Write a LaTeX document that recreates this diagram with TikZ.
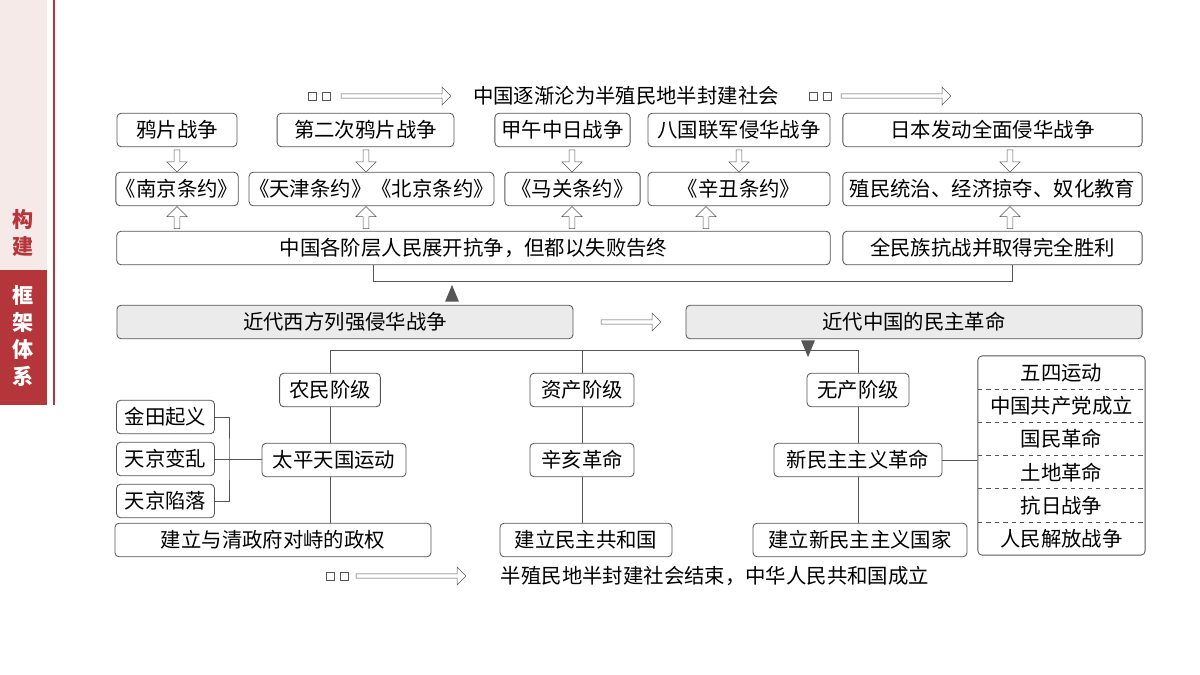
\documentclass[tikz,border=0pt]{standalone}
\usepackage{fontspec}
\setmainfont{Noto Sans CJK SC}
\usetikzlibrary{shapes.arrows,shapes.geometric}
\definecolor{sidered}{HTML}{B5363A}
\definecolor{sidepink}{HTML}{F5EAE8}
\definecolor{boxgray}{HTML}{EBEBEB}
\definecolor{linegray}{HTML}{555555}
\tikzset{
  txt/.style={font=\fontsize{14.5}{16}\selectfont},
  box/.style={draw=linegray,rounded corners=3pt,line width=0.6pt,minimum height=0.84cm,inner sep=0pt,txt},
  gbox/.style={box,fill=boxgray},
  down/.style={single arrow,draw=linegray,fill=white,shape border rotate=270,minimum width=0.5cm,minimum height=0.55cm,single arrow head extend=0.07cm,inner sep=0.6pt},
  up/.style={down,shape border rotate=90},
  right/.style={single arrow,draw=linegray,fill=white,minimum width=0.45cm,minimum height=#1,single arrow head extend=0.08cm,inner sep=0.5pt},
  sq/.style={draw=linegray,minimum size=0.2cm,inner sep=0pt},
  tri/.style={fill=linegray,isosceles triangle,isosceles triangle apex angle=45,inner sep=0pt,minimum height=0.42cm},
  lnk/.style={draw=linegray,line width=0.6pt},
}
\begin{document}
\begin{tikzpicture}[x=0.025cm,y=-0.025cm]
\useasboundingbox (0,0) rectangle (1200,675);
% sidebar
\fill[sidepink] (0,0) rectangle (47,270);
\fill[sidered] (0,270) rectangle (47,405);
\draw[sidered,line width=0.8pt] (54,0) -- (54,405);
\node[text=sidered,font=\fontsize{15}{19}\bfseries\selectfont,align=center] (goujian) at (23.5,233) {构\\建};
\node[text=white,font=\fontsize{15}{19}\bfseries\selectfont,align=center] (kuangjia) at (23.5,336) {框\\架\\体\\系};

% top line
\node[sq] (s1) at (312,96) {}; \node[sq] (s2) at (326,96) {};
\node[right=2.75cm] (ar1) at (395,96) {};
\node[txt] (top) at (626,96) {中国逐渐沦为半殖民地半封建社会};
\node[sq] (s3) at (813,96) {}; \node[sq] (s4) at (827,96) {};
\node[right=2.75cm] (ar2) at (895,96) {};

% row 1
\node[box,minimum width=3cm] (yp) at (177,130) {鸦片战争};
\node[box,minimum width=4.42cm] (dec) at (365.5,130) {第二次鸦片战争};
\node[box,minimum width=3.38cm] (jw) at (562.5,130) {甲午中日战争};
\node[box,minimum width=4.55cm] (bg) at (739,130) {八国联军侵华战争};
\node[box,minimum width=7.48cm] (rb) at (992.5,130) {日本发动全面侵华战争};
% row 2
\node[box,minimum width=3cm] (nj) at (177,189) {《南京条约》};
\node[box,minimum width=6.12cm] (tj) at (371.5,189) {《天津条约》《北京条约》};
\node[box,minimum width=3.38cm] (mg) at (572.5,189) {《马关条约》};
\node[box,minimum width=4.55cm] (xc) at (739,189) {《辛丑条约》};
\node[box,minimum width=7.48cm] (zm) at (992.5,189) {殖民统治、经济掠夺、奴化教育};
% row 3
\node[box,minimum width=17.83cm] (kz) at (473.5,248) {中国各阶层人民展开抗争，但都以失败告终};
\node[box,minimum width=7.48cm] (qm) at (992.5,248) {全民族抗战并取得完全胜利};

% hollow arrows
\foreach \x/\n in {177/a,366/b,572/c,739/d,1010/e}
  \node[down] (d\n) at (\x,159.5) {};
\foreach \x/\n in {177/a,366/b,572/c,706/d,1010/e}
  \node[up] (u\n) at (\x,219) {};

% row 4
\node[gbox,minimum width=11.4cm] (xf) at (345,322) {近代西方列强侵华战争};
\node[right=1.5cm] (ar3) at (630,322) {};
\node[gbox,minimum width=11.4cm] (mz) at (914,322) {近代中国的民主革命};
\coordinate (ka) at (373,281);
\coordinate (kb) at (1012,281);
\draw[lnk] (kz.south -| ka) -- (ka) -- (kb) -- (qm.south -| kb);
\node[tri,rotate=90,anchor=west] (t1) at (452,302) {};
\node[tri,rotate=-90,anchor=west] (t2) at (808,340) {};

% row 5-7
\node[box,minimum width=2.52cm] (nm) at (330,390) {农民阶级};
\node[box,minimum width=2.6cm] (zc) at (582,390) {资产阶级};
\node[box,minimum width=2.55cm] (wc) at (858,390) {无产阶级};
\node[box,minimum width=3.6cm] (tp) at (334,460) {太平天国运动};
\node[box,minimum width=2.6cm] (xh) at (582,460) {辛亥革命};
\node[box,minimum width=4.2cm] (xm) at (858,460) {新民主主义革命};
\node[box,minimum width=7.9cm] (jl1) at (273,540) {建立与清政府对峙的政权};
\node[box,minimum width=4.3cm] (jl2) at (586,540) {建立民主共和国};
\node[box,minimum width=5.35cm] (jl3) at (860,540) {建立新民主主义国家};
\node[box,minimum width=2.45cm] (jt) at (165.5,417) {金田起义};
\node[box,minimum width=2.45cm] (tb) at (165.5,459) {天京变乱};
\node[box,minimum width=2.45cm] (tx) at (165.5,501) {天京陷落};

\coordinate (h1) at (330,350);
\coordinate (h2) at (858,350);
\draw[lnk] (nm.north -| h1) -- (h1) -- (h2) -- (wc.north);
\draw[lnk] (zc.north) -- (zc.north |- h1);
\draw[lnk] (nm.south -| h1) -- (tp.north -| h1);
\draw[lnk] (tp.south -| h1) -- (jl1.north -| h1);
\draw[lnk] (zc) -- (xh) -- (jl2.north -| xh);
\draw[lnk] (wc) -- (xm) -- (jl3.north -| xm);
\coordinate (br) at (229,459);
\draw[lnk] (jt.east) -| (br) |- (tx.east);
\draw[lnk] (tb.east) -- (tb.east -| tp.west);

% right list
\node[box,minimum width=4.18cm,minimum height=4.98cm] (lst) at (1061.5,455.5) {};
\foreach \t [count=\i] in {五四运动,中国共产党成立,国民革命,土地革命,抗日战争,人民解放战争}
  \node[txt] (l\i) at (1061.5,356+33.2*\i-16.6) {\t};
\foreach \i in {1,...,5}
  \draw[linegray,dashed,line width=0.5pt] (978,356+33.2*\i) -- (1145,356+33.2*\i);
\draw[lnk] (xm.east) -- (xm.east -| lst.west);

% bottom line
\node[sq] (s5) at (330,576) {}; \node[sq] (s6) at (344,576) {};
\node[right=2.75cm] (ar4) at (410,576) {};
\node[txt] (bot) at (715,576) {半殖民地半封建社会结束，中华人民共和国成立};
\end{tikzpicture}
\end{document}
